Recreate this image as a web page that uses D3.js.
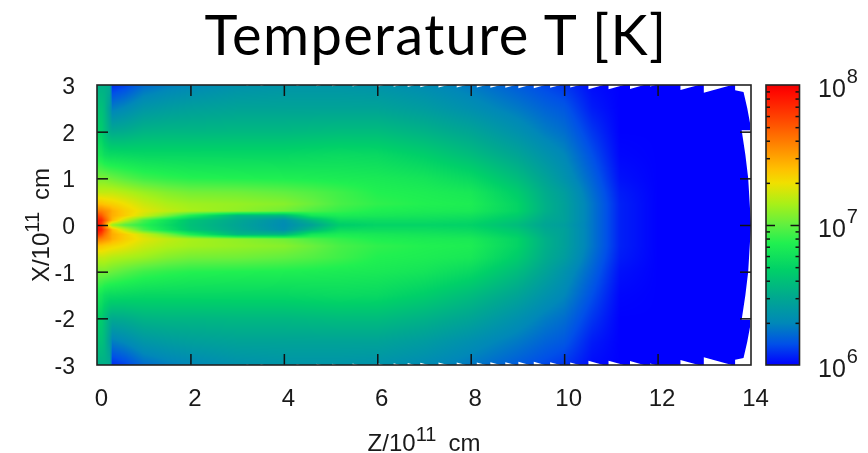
<!DOCTYPE html>
<html>
<head>
<meta charset="utf-8">
<script src="https://d3js.org/d3.v7.min.js"></script>
<style>
  html, body { margin: 0; padding: 0; background: #fff; overflow: hidden; }
  #chart { position: relative; width: 868px; height: 453px; }
  #chart canvas, #chart svg { position: absolute; left: 0; top: 0; }
  #chart canvas { filter: blur(0.5px); }
  .label { font-family: "Liberation Sans", Arial, sans-serif; fill: #1a1a1a; }
</style>
</head>
<body>
<div id="chart"></div>
<script>

// Set dimensions and margins for the plot
const width = 868;
const height = 453;
const margin = {left: 97, right: 117, top: 85, bottom: 88};
const barBox = {left: 766, right: 799.5};

// Tick labels
const zTicks = [0, 2, 4, 6, 8, 10, 12, 14];
const xTicks = [-3, -2, -1, 0, 1, 2, 3];
const barMinor = [2e6, 3e6, 4e6, 5e6, 6e6, 7e6, 8e6, 9e6, 2e7, 3e7, 4e7, 5e7, 6e7, 7e7, 8e7, 9e7];
const barMajor = [1e7];
const barExponents = [8, 7, 6];

// Colour table, log10(T) -> colour
const colorLogT = [6, 6.15, 6.3, 6.48, 6.68, 6.87, 7, 7.15, 7.3, 7.4, 7.55, 7.75, 7.95, 8];
const colorValues = ["#0000ff", "#0050e8", "#0088b8", "#00a890", "#00d068", "#20f050", "#60f040",
                     "#a8f018", "#f0e000", "#ffc000", "#ff8c00", "#ff4800", "#ff0800", "#f00000"];

// Grid positions of the table below
const zGrid = [0, 0.1, 0.16, 0.27, 0.33, 0.6, 1, 1.5, 2, 3, 4, 4.6, 5.2, 6, 7, 8, 9, 9.6, 10, 10.6, 11.2, 12, 14];
const xGrid = [3, 2.5, 2, 1.5, 1, 0.7, 0.45, 0.3, 0.2, 0.1, 0, -0.1, -0.2, -0.3, -0.45, -0.7, -1, -1.5, -2, -2.5, -3];

// log10(T), one row per xGrid entry
const logT = [
  [6.52,6.52,6.52,6.50,6.08,6.12,6.22,6.27,6.30,6.35,6.37,6.37,6.37,6.36,6.32,6.26,6.18,6.13,6.10,6.02,6,6,6],
  [6.60,6.60,6.56,6.42,6.27,6.31,6.38,6.41,6.43,6.45,6.45,6.45,6.45,6.45,6.41,6.34,6.26,6.20,6.17,6.05,6,6,6],
  [6.68,6.66,6.60,6.51,6.49,6.50,6.54,6.55,6.55,6.56,6.56,6.57,6.58,6.58,6.53,6.46,6.35,6.27,6.23,6.10,6,6,6],
  [6.83,6.80,6.76,6.74,6.74,6.73,6.72,6.72,6.72,6.72,6.72,6.73,6.74,6.73,6.67,6.58,6.46,6.36,6.30,6.15,6.01,6,6],
  [7.05,7.05,7.05,7.03,7.02,6.98,6.93,6.90,6.88,6.87,6.86,6.85,6.84,6.83,6.80,6.73,6.58,6.45,6.36,6.20,6.03,6,6],
  [7.20,7.20,7.20,7.20,7.20,7.17,7.12,7.07,7.04,7.03,7.00,6.97,6.93,6.87,6.85,6.82,6.66,6.50,6.42,6.23,6.05,6,6],
  [7.40,7.40,7.38,7.36,7.35,7.30,7.22,7.16,7.13,7.11,7.08,7.02,6.95,6.90,6.87,6.85,6.70,6.52,6.44,6.25,6.06,6,6],
  [7.60,7.58,7.55,7.50,7.45,7.36,7.27,7.20,7.15,7.10,7.03,6.96,6.91,6.86,6.84,6.83,6.70,6.52,6.44,6.25,6.06,6,6],
  [7.78,7.70,7.62,7.50,7.45,7.36,7.22,7.05,6.85,6.55,6.55,6.80,6.84,6.82,6.80,6.78,6.66,6.50,6.44,6.25,6.06,6,6],
  [7.92,7.85,7.72,7.52,7.42,7.20,6.95,6.78,6.62,6.48,6.34,6.55,6.74,6.75,6.75,6.73,6.62,6.48,6.44,6.25,6.06,6,6],
  [7.96,7.78,7.58,7.22,7.12,6.98,6.88,6.74,6.60,6.46,6.32,6.45,6.66,6.70,6.70,6.69,6.58,6.46,6.42,6.25,6.06,6,6],
  [7.97,7.88,7.74,7.54,7.42,7.20,6.95,6.78,6.62,6.48,6.34,6.55,6.74,6.75,6.75,6.73,6.62,6.48,6.44,6.25,6.06,6,6],
  [7.85,7.74,7.64,7.52,7.46,7.36,7.22,7.05,6.85,6.55,6.55,6.80,6.84,6.82,6.80,6.78,6.66,6.50,6.44,6.25,6.06,6,6],
  [7.62,7.58,7.55,7.50,7.45,7.36,7.27,7.20,7.15,7.10,7.03,6.96,6.91,6.86,6.84,6.83,6.70,6.52,6.44,6.25,6.06,6,6],
  [7.38,7.38,7.36,7.34,7.33,7.29,7.22,7.17,7.14,7.11,7.08,7.02,6.95,6.90,6.87,6.85,6.70,6.52,6.44,6.25,6.06,6,6],
  [7.20,7.20,7.20,7.18,7.17,7.15,7.12,7.07,7.04,7.03,7.00,6.97,6.93,6.87,6.85,6.82,6.66,6.50,6.42,6.23,6.05,6,6],
  [7.05,7.05,7.05,7.03,7.02,6.98,6.93,6.90,6.88,6.87,6.86,6.85,6.84,6.83,6.80,6.73,6.58,6.45,6.36,6.20,6.03,6,6],
  [6.83,6.80,6.76,6.74,6.74,6.73,6.72,6.72,6.72,6.72,6.72,6.73,6.74,6.73,6.67,6.58,6.46,6.36,6.30,6.15,6.01,6,6],
  [6.68,6.66,6.60,6.51,6.49,6.50,6.54,6.55,6.55,6.56,6.56,6.57,6.58,6.58,6.53,6.46,6.35,6.27,6.23,6.10,6,6,6],
  [6.60,6.60,6.56,6.42,6.27,6.31,6.38,6.41,6.43,6.45,6.45,6.45,6.45,6.45,6.41,6.34,6.26,6.20,6.17,6.05,6,6,6],
  [6.52,6.52,6.52,6.50,6.08,6.12,6.22,6.27,6.30,6.35,6.37,6.37,6.37,6.36,6.32,6.26,6.18,6.13,6.10,6.02,6,6,6]
];

// White notches along the top and bottom of the grid (Z where each starts, and its length)
const notchStart = [3.2, 3.5, 4.27, 4.7, 5.03, 5.47, 6.0, 6.35, 6.65, 6.92, 7.31, 7.7, 8.13, 8.42, 8.74, 9.02, 9.35, 9.7, 10.13, 10.52, 10.95, 11.41, 11.84, 12.49, 12.99];
const notchLength = [0.06, 0.08, 0.08, 0.1, 0.1, 0.12, 0.14, 0.14, 0.15, 0.18, 0.2, 0.2, 0.2, 0.22, 0.22, 0.24, 0.24, 0.22, 0.2, 0.32, 0.33, 0.3, 0.12, 0.39, 0.6];
const notchSlope = 0.28;

// Outer edge of the grid on the right, top half, from the top corner down to X = 0
const edgeZ = [13.66, 13.66, 13.84, 13.92, 13.98, 13.98, 13.8, 13.88, 13.94, 14];
const edgeX = [3, 2.89, 2.85, 2.5, 2.18, 2.03, 2.03, 1.5, 1, 0];

// Scales
const zScale = d3.scaleLinear().domain([0, 14]).range([margin.left, width - margin.right]);
const xScale = d3.scaleLinear().domain([-3, 3]).range([height - margin.bottom, margin.top]);
const barScale = d3.scaleLog().domain([1e6, 1e8]).range([height - margin.bottom, margin.top]);
const colorScale = d3.scaleLinear().domain(colorLogT).range(colorValues).clamp(true);

// Position of a value inside a grid, as index + fraction
const zIndex = d3.scaleLinear().domain(zGrid).range(d3.range(zGrid.length)).clamp(true);
const xIndex = d3.scaleLinear().domain(xGrid).range(d3.range(xGrid.length)).clamp(true);

function valueAt(z, x) {
  const zi = zIndex(z), xi = xIndex(x);
  const i0 = Math.min(Math.floor(zi), zGrid.length - 2), j0 = Math.min(Math.floor(xi), xGrid.length - 2);
  const fz = zi - i0, fx = xi - j0;
  const top = logT[j0][i0] * (1 - fz) + logT[j0][i0 + 1] * fz;
  const bottom = logT[j0 + 1][i0] * (1 - fz) + logT[j0 + 1][i0 + 1] * fz;
  return top * (1 - fx) + bottom * fx;
}

// Outline of the grid, from the notches and the right edge
function outline() {
  const points = [[0, 3]];
  notchStart.forEach((s, i) => {
    points.push([s, 3], [s, 3 - notchLength[i] * notchSlope], [s + notchLength[i], 3]);
  });
  edgeZ.forEach((z, i) => points.push([z, edgeX[i]]));
  // the lower half runs back the other way, mirrored
  for (let i = edgeZ.length - 2; i >= 0; i--) points.push([edgeZ[i], -edgeX[i]]);
  for (let i = notchStart.length - 1; i >= 0; i--) {
    const s = notchStart[i], l = notchLength[i];
    points.push([s + l, -3], [s, -3 + l * notchSlope], [s, -3]);
  }
  points.push([0, -3]);
  return points;
}

/*

  Heat map

*/

const chart = d3.select("#chart");
const canvas = chart.append("canvas").attr("width", width).attr("height", height);
const ctx = canvas.node().getContext("2d");

ctx.beginPath();
outline().forEach(([z, x], i) => {
  if (i === 0) ctx.moveTo(zScale(z), xScale(x));
  else ctx.lineTo(zScale(z), xScale(x));
});
ctx.closePath();
ctx.clip();

for (let py = margin.top; py < height - margin.bottom; py++) {
  for (let px = margin.left; px < width - margin.right; px++) {
    ctx.fillStyle = colorScale(valueAt(zScale.invert(px + 0.5), xScale.invert(py + 0.5)));
    ctx.fillRect(px, py, 1, 1);
  }
}

/*

  Axes

*/

const svg = chart.append("svg").attr("width", width).attr("height", height);

// Colour bar, gradient stops come from the colour table
const gradient = svg.append("defs").append("linearGradient")
  .attr("id", "barGradient")
  .attr("x1", 0).attr("x2", 0).attr("y1", 1).attr("y2", 0);
gradient.selectAll("stop")
  .data(colorLogT)
  .enter()
  .append("stop")
    .attr("offset", d => (d - 6) / 2)
    .attr("stop-color", (d, i) => colorValues[i]);

svg.append("rect")
  .attr("x", barBox.left)
  .attr("y", margin.top)
  .attr("width", barBox.right - barBox.left)
  .attr("height", height - margin.top - margin.bottom)
  .attr("fill", "url(#barGradient)");

function inner(g, axis) {
  g.call(axis);
  g.select(".domain").remove();
  g.selectAll("line").attr("stroke", "#111").attr("stroke-width", 1.5);
  g.selectAll("text").remove();
}

// Ticks on all four sides of the plot
svg.append("g").attr("transform", `translate(0,${height - margin.bottom})`)
  .call(inner, d3.axisBottom(zScale).tickValues(zTicks.slice(1, -1)).tickSize(-11));
svg.append("g").attr("transform", `translate(0,${margin.top})`)
  .call(inner, d3.axisTop(zScale).tickValues(zTicks.slice(1, -1)).tickSize(-11));
svg.append("g").attr("transform", `translate(${margin.left},0)`)
  .call(inner, d3.axisLeft(xScale).tickValues(xTicks.slice(1, -1)).tickSize(-11));
svg.append("g").attr("transform", `translate(${width - margin.right},0)`)
  .call(inner, d3.axisRight(xScale).tickValues(xTicks.slice(1, -1)).tickSize(-11));

// Ticks on both sides of the colour bar
[[barMinor, 4], [barMajor, 9]].forEach(([values, size]) => {
  svg.append("g").attr("transform", `translate(${barBox.left},0)`)
    .call(inner, d3.axisLeft(barScale).tickValues(values).tickSize(-size));
  svg.append("g").attr("transform", `translate(${barBox.right},0)`)
    .call(inner, d3.axisRight(barScale).tickValues(values).tickSize(-size));
});

// Frames
svg.append("rect")
  .attr("x", margin.left).attr("y", margin.top)
  .attr("width", width - margin.left - margin.right)
  .attr("height", height - margin.top - margin.bottom)
  .attr("fill", "none").attr("stroke", "#222").attr("stroke-width", 1.6);
svg.append("rect")
  .attr("x", barBox.left).attr("y", margin.top)
  .attr("width", barBox.right - barBox.left)
  .attr("height", height - margin.top - margin.bottom)
  .attr("fill", "none").attr("stroke", "#222").attr("stroke-width", 1.6);

// Tick labels
const zLabels = svg.append("g")
  .attr("transform", `translate(4,${height - margin.bottom})`)
  .call(d3.axisBottom(zScale).tickValues(zTicks).tickFormat(String).tickSize(0).tickPadding(24));
const xLabels = svg.append("g")
  .attr("transform", `translate(${margin.left - 22},1)`)
  .call(d3.axisLeft(xScale).tickValues(xTicks).tickFormat(String).tickSize(0).tickPadding(0));
zLabels.selectAll("text").attr("font-size", 24);
xLabels.selectAll("text").attr("font-size", 23);
[zLabels, xLabels].forEach(g => {
  g.select(".domain").remove();
  g.selectAll("text").attr("class", "label").attr("fill", null);
  g.attr("font-family", null).attr("font-size", null);
});

// Colour bar labels
barExponents.forEach(e => {
  const y = barScale(Math.pow(10, e)) + 12;
  const text = svg.append("text").attr("class", "label").attr("x", 818).attr("y", y).attr("font-size", 25);
  text.append("tspan").text("10");
  text.append("tspan").attr("dy", -14).attr("dx", 1).attr("font-size", 20).text(e);
});

// Axis titles
function axisTitle(g) {
  return g.append("text").attr("class", "label").attr("font-size", 24).attr("text-anchor", "middle");
}

const zTitle = axisTitle(svg).attr("x", 424).attr("y", 451);
zTitle.append("tspan").text("Z/10");
zTitle.append("tspan").attr("dy", -10).attr("font-size", 20).text("11");
zTitle.append("tspan").attr("dy", 10).attr("dx", 12).text("cm");

const xTitle = axisTitle(svg).attr("transform", "translate(49,225) rotate(-90)");
xTitle.append("tspan").text("X/10");
xTitle.append("tspan").attr("dy", -10).attr("font-size", 20).text("11");
xTitle.append("tspan").attr("dy", 10).attr("dx", 12).text("cm");

// Title
svg.append("text")
  .attr("x", 436)
  .attr("y", 55)
  .attr("text-anchor", "middle")
  .attr("font-family", "Lato, sans-serif")
  .attr("font-size", 56)
  .attr("letter-spacing", 1.35)
  .attr("fill", "#000")
  .text("Temperature T [K]");

</script>
</body>
</html>
